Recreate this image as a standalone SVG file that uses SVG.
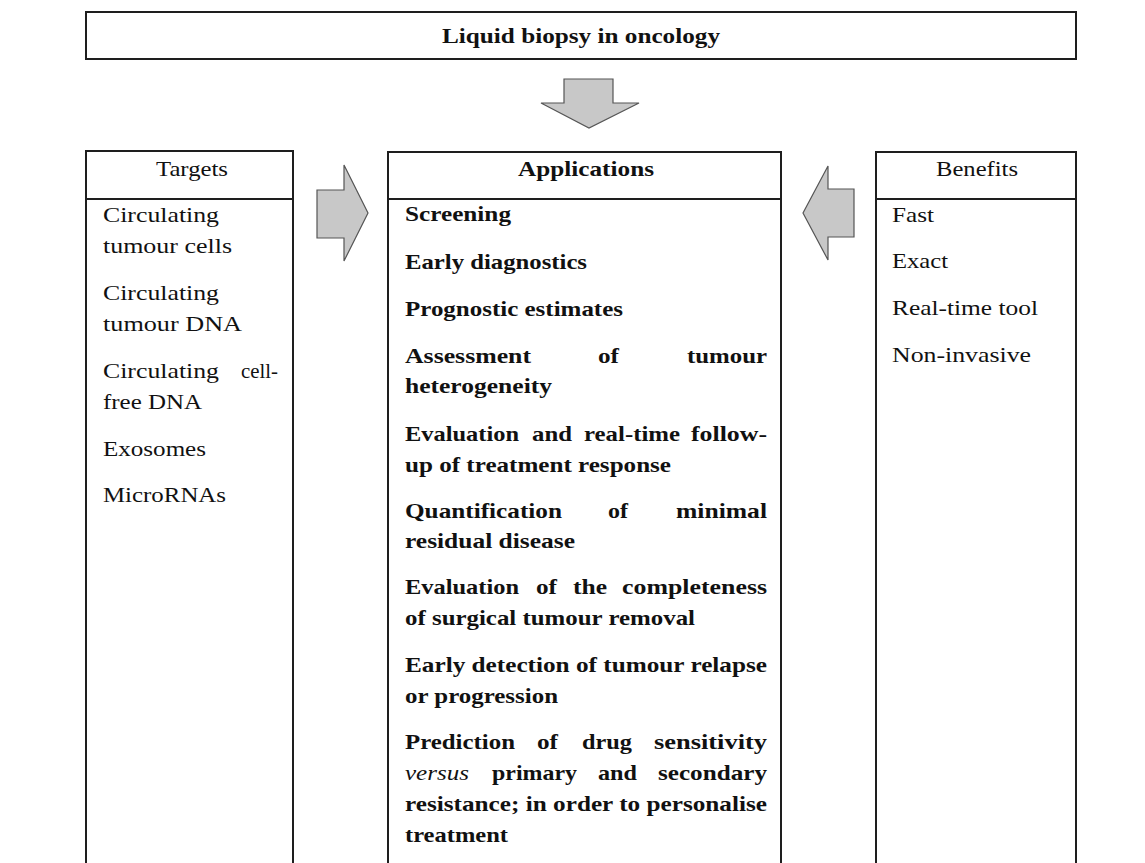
<svg xmlns="http://www.w3.org/2000/svg" width="1145" height="863" viewBox="0 0 1145 863">
<style>
.box{fill:#ffffff;stroke:#1e1e1e;stroke-width:2}
.ln{stroke:#1e1e1e;stroke-width:2;fill:none}
.arr{fill:#c8c8c8;stroke:#555555;stroke-width:1.2;stroke-linejoin:miter}
text{font-family:"Liberation Serif","Times New Roman",serif;font-size:22px;fill:#111111}
.b{font-weight:bold}
.i{font-style:italic;font-weight:normal}
.h{text-anchor:middle}
</style>
<rect width="1145" height="863" fill="#ffffff"/>

<g id="title">
<rect class="box" x="86" y="12" width="990" height="47"/>
<text class="b h" x="581" y="43" textLength="278" lengthAdjust="spacingAndGlyphs">Liquid biopsy in oncology</text>
</g>

<g id="targets">
<path class="ln" d="M86,863 V151 H293 V863 M86,199 H293"/>
<text class="h" x="192" y="176" textLength="72" lengthAdjust="spacingAndGlyphs">Targets</text>
<text x="103" y="222" textLength="116" lengthAdjust="spacingAndGlyphs">Circulating</text>
<text x="103" y="253" textLength="129" lengthAdjust="spacingAndGlyphs">tumour cells</text>
<text x="103" y="300" textLength="116" lengthAdjust="spacingAndGlyphs">Circulating</text>
<text x="103" y="331" textLength="139" lengthAdjust="spacingAndGlyphs">tumour DNA</text>
<text x="103" y="378" textLength="116" lengthAdjust="spacingAndGlyphs">Circulating</text>
<text x="241" y="378" textLength="37" lengthAdjust="spacingAndGlyphs">cell-</text>
<text x="103" y="409" textLength="99" lengthAdjust="spacingAndGlyphs">free DNA</text>
<text x="103" y="456" textLength="103" lengthAdjust="spacingAndGlyphs">Exosomes</text>
<text x="103" y="502" textLength="123" lengthAdjust="spacingAndGlyphs">MicroRNAs</text>
</g>

<g id="applications">
<path class="ln" d="M388,863 V152 H781 V863 M388,199 H781"/>
<text class="b h" x="586" y="176" textLength="136" lengthAdjust="spacingAndGlyphs">Applications</text>
<text class="b" x="405" y="221" textLength="106" lengthAdjust="spacingAndGlyphs">Screening</text>
<text class="b" x="405" y="269" textLength="182" lengthAdjust="spacingAndGlyphs">Early diagnostics</text>
<text class="b" x="405" y="316" textLength="218" lengthAdjust="spacingAndGlyphs">Prognostic estimates</text>
<text class="b" x="405" y="363" textLength="126" lengthAdjust="spacingAndGlyphs">Assessment</text>
<text class="b" x="598" y="363" textLength="21" lengthAdjust="spacingAndGlyphs">of</text>
<text class="b" x="687" y="363" textLength="80" lengthAdjust="spacingAndGlyphs">tumour</text>
<text class="b" x="405" y="393" textLength="147" lengthAdjust="spacingAndGlyphs">heterogeneity</text>
<text class="b" x="405" y="441" textLength="114" lengthAdjust="spacingAndGlyphs">Evaluation</text>
<text class="b" x="532" y="441" textLength="40" lengthAdjust="spacingAndGlyphs">and</text>
<text class="b" x="584" y="441" textLength="96" lengthAdjust="spacingAndGlyphs">real-time</text>
<text class="b" x="691" y="441" textLength="76" lengthAdjust="spacingAndGlyphs">follow-</text>
<text class="b" x="405" y="472" textLength="266" lengthAdjust="spacingAndGlyphs">up of treatment response</text>
<text class="b" x="405" y="518" textLength="157" lengthAdjust="spacingAndGlyphs">Quantification</text>
<text class="b" x="608" y="518" textLength="20" lengthAdjust="spacingAndGlyphs">of</text>
<text class="b" x="676" y="518" textLength="91" lengthAdjust="spacingAndGlyphs">minimal</text>
<text class="b" x="405" y="548" textLength="170" lengthAdjust="spacingAndGlyphs">residual disease</text>
<text class="b" x="405" y="594" textLength="114" lengthAdjust="spacingAndGlyphs">Evaluation</text>
<text class="b" x="536" y="594" textLength="21" lengthAdjust="spacingAndGlyphs">of</text>
<text class="b" x="573" y="594" textLength="34" lengthAdjust="spacingAndGlyphs">the</text>
<text class="b" x="622" y="594" textLength="145" lengthAdjust="spacingAndGlyphs">completeness</text>
<text class="b" x="405" y="625" textLength="290" lengthAdjust="spacingAndGlyphs">of surgical tumour removal</text>
<text class="b" x="405" y="672" textLength="362" lengthAdjust="spacingAndGlyphs">Early detection of tumour relapse</text>
<text class="b" x="405" y="703" textLength="153" lengthAdjust="spacingAndGlyphs">or progression</text>
<text class="b" x="405" y="749" textLength="110" lengthAdjust="spacingAndGlyphs">Prediction</text>
<text class="b" x="537" y="749" textLength="21" lengthAdjust="spacingAndGlyphs">of</text>
<text class="b" x="582" y="749" textLength="50" lengthAdjust="spacingAndGlyphs">drug</text>
<text class="b" x="654" y="749" textLength="113" lengthAdjust="spacingAndGlyphs">sensitivity</text>
<text class="i" x="405" y="780" textLength="64" lengthAdjust="spacingAndGlyphs">versus</text>
<text class="b" x="492" y="780" textLength="85" lengthAdjust="spacingAndGlyphs">primary</text>
<text class="b" x="598" y="780" textLength="39" lengthAdjust="spacingAndGlyphs">and</text>
<text class="b" x="658" y="780" textLength="109" lengthAdjust="spacingAndGlyphs">secondary</text>
<text class="b" x="405" y="811" textLength="362" lengthAdjust="spacingAndGlyphs">resistance; in order to personalise</text>
<text class="b" x="405" y="842" textLength="103" lengthAdjust="spacingAndGlyphs">treatment</text>
</g>

<g id="benefits">
<path class="ln" d="M876,863 V152 H1076 V863 M876,199 H1076"/>
<text class="h" x="977" y="176" textLength="82" lengthAdjust="spacingAndGlyphs">Benefits</text>
<text x="892" y="222" textLength="42" lengthAdjust="spacingAndGlyphs">Fast</text>
<text x="892" y="268" textLength="56" lengthAdjust="spacingAndGlyphs">Exact</text>
<text x="892" y="315" textLength="146" lengthAdjust="spacingAndGlyphs">Real-time tool</text>
<text x="892" y="362" textLength="139" lengthAdjust="spacingAndGlyphs">Non-invasive</text>
</g>

<g id="connectors">
<polygon class="arr" points="564,79 613,79 613,103 639,103 589,128 541,103 564,103"/>
<polygon class="arr" points="317,190 344,190 344,165 368,213 344,261 344,238 317,238"/>
<polygon class="arr" points="854,189 828,189 828,166 803,213 828,260 828,237 854,237"/>
</g>
</svg>
